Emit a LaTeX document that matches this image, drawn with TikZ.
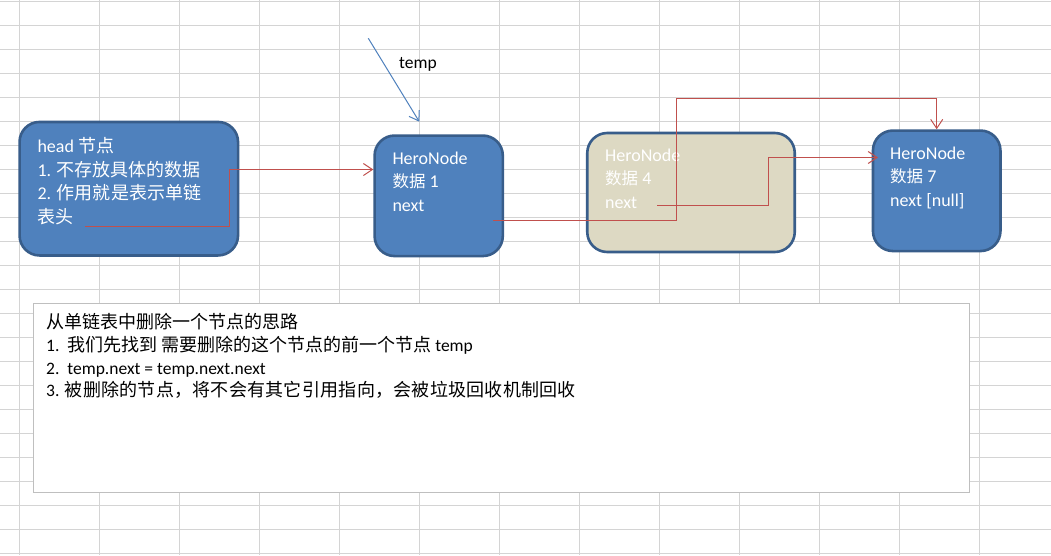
\documentclass[tikz,border=0pt]{standalone}
\usepackage{fontspec}
\setmainfont{Carlito}
\newfontfamily\cjk{Noto Sans CJK SC}
\usetikzlibrary{arrows.meta}
\definecolor{gridc}{HTML}{D4D4D4}
\definecolor{nodeblue}{HTML}{4F81BD}
\definecolor{nodeedge}{HTML}{385D8A}
\definecolor{beige}{HTML}{DDD9C3}
\definecolor{redln}{HTML}{C0504D}
\definecolor{boxedge}{HTML}{BFBFBF}
\newcommand\zhA[1]{{\cjk\fontsize{18}{23.5}\selectfont #1}}
\newcommand\zhB[1]{{\cjk\fontsize{16.5}{23.5}\selectfont #1}}
\newcommand\zhC[1]{{\cjk\fontsize{18}{22}\selectfont #1}}
\def\sprd#1{\ifx\relax#1\else#1\hfil\expandafter\sprd\fi}
\begin{document}
\begin{tikzpicture}[x=1pt,y=-1pt,
  gridline/.style={draw=gridc, line width=1pt},
  blk/.style={rectangle, rounded corners=20pt, draw=nodeedge, line width=2.6pt, fill=nodeblue, inner sep=0pt},
  beigeblk/.style={blk, fill=beige},
  notebox/.style={rectangle, draw=boxedge, line width=1pt, fill=white, inner sep=0pt},
  lbl/.style={anchor=base west, inner sep=0pt, text=white, font=\fontsize{18}{23.5}\selectfont},
  notetxt/.style={anchor=base west, inner sep=0pt, text=black, font=\fontsize{17.5}{22}\selectfont},
  link/.style={draw=redln, line width=1pt, -{Straight Barb[length=9pt,width=12pt]}},
  bluelink/.style={draw=nodeblue, line width=1pt, -{Straight Barb[length=9pt,width=12pt]}}
]
\useasboundingbox (0,0) rectangle (1051,555);
\fill[white] (0,0) rectangle (1051,555);
% spreadsheet grid
\foreach \k in {0,...,13} \draw[gridline] (19.5+80*\k,0) -- (19.5+80*\k,555);
\foreach \k in {0,...,23} \draw[gridline] (0,1.3+24*\k) -- (1051,1.3+24*\k);

% note box
\node[notebox, minimum width=936pt, minimum height=188.5pt] (note) at (501.5,397.75) {};
\node[notetxt] (note1) at (46,328) {\zhC{从单链表中删除一个节点的思路}};
\node[notetxt] (note2) at (46,351.5) {1.\ \ \zhC{我们先找到} \zhC{需要删除的这个节点的前一个节点} temp};
\node[notetxt] (note3) at (46,374) {2.\ \ temp.next = temp.next.next};
\node[notetxt] (note4) at (46,396.5) {\makebox[530pt][s]{3. \zhC{\sprd 被删除的节点，将不会有其它引用指向，会被垃圾回收机制回收\relax}}};

% linked list nodes
\node[blk, minimum width=218.5pt, minimum height=133.5pt] (head) at (128.8,188.7) {};
\node[blk, minimum width=128.2pt, minimum height=120.5pt] (n1) at (438.7,195.8) {};
\node[beigeblk, minimum width=207.5pt, minimum height=119pt] (n4) at (691,192.5) {};
\node[blk, minimum width=127.5pt, minimum height=120.5pt] (n7) at (936.7,190.8) {};

% texts
\node[lbl] (h1) at (37.3,152.7) {head \zhA{节点}};
\node[lbl] (h2) at (37.3,176.2) {1. \zhA{不存放具体的数据}};
\node[lbl] (h3) at (37.3,199.7) {\makebox[164.4pt][s]{2. \zhA{作\hfil 用\hfil 就\hfil 是\hfil 表\hfil 示\hfil 单\hfil 链}}};
\node[lbl] (h4) at (37.3,223.2) {\zhA{表头}};

\node[lbl] (n1a) at (392.3,164) {HeroNode};
\node[lbl] (n1b) at (392.3,187.5) {\zhB{数据} 1};
\node[lbl] (n1c) at (392.3,211) {next};

\node[lbl] (n4a) at (605,161) {HeroNode};
\node[lbl] (n4b) at (605,184.5) {\zhB{数据} 4};
\node[lbl] (n4c) at (605,208) {next};

\node[lbl] (n7a) at (890,159) {HeroNode};
\node[lbl] (n7b) at (890,182.5) {\zhB{数据} 7};
\node[lbl] (n7c) at (890,206) {next [null]};

% connectors
\coordinate (hnext) at (85,226);
\coordinate (a1) at (229,169.5);
\draw[link] (hnext) -| (a1) -- (a1 -| n1.west);

\coordinate (n1next) at (493,220);
\coordinate (b1) at (676,98.3);
\draw[link] (n1next) -| (b1) -| (n7.north);

\coordinate (n4next) at (657,205);
\coordinate (c1) at (768,157.5);
\coordinate (c2) at (878,157.5);
\draw[link] (n4next) -| (c1) -- (c2);

% temp pointer
\coordinate (tstart) at (368.3,38.3);
\coordinate (tend) at (419.3,121.7);
\draw[bluelink] (tstart) -- (tend);
\node[anchor=base west, inner sep=0pt, text=black, font=\fontsize{17.5}{20}\selectfont] (templbl) at (399,68) {temp};
\end{tikzpicture}
\end{document}
